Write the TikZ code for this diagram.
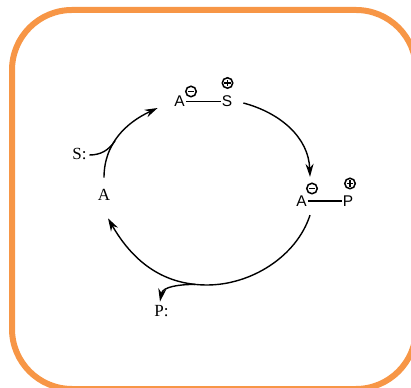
\documentclass[tikz,border=0pt]{standalone}
\usepackage{fontspec}
\setmainfont{Liberation Serif}
\setsansfont{Liberation Sans}
\usepackage{tikz}
\usetikzlibrary{arrows.meta,positioning,calc}
\definecolor{frameOrange}{RGB}{247, 150, 70}
\definecolor{inkBlack}{RGB}{0, 0, 0}

\begin{document}
\begin{tikzpicture}[x=1pt, y=1pt,
    ion/.style={inner sep=1pt, font=\sffamily\fontsize{15.5pt}{17pt}\selectfont},
    spec/.style={inner sep=1pt, font=\fontsize{17pt}{19pt}\selectfont},
    chg/.style={circle, draw, line width=1.5pt, minimum size=10.5pt, inner sep=0pt},
    negChg/.style={chg, path picture={\draw[line width=1.6pt]
        ([xshift=-3.2pt]path picture bounding box.center) -- ([xshift=3.2pt]path picture bounding box.center);}},
    posChg/.style={chg, path picture={\draw[line width=1.6pt]
        ([xshift=-3.2pt]path picture bounding box.center) -- ([xshift=3.2pt]path picture bounding box.center)
        ([yshift=-3.2pt]path picture bounding box.center) -- ([yshift=3.2pt]path picture bounding box.center);}},
    bond/.style={line width=1.4pt},
    cyc/.style={line width=1.4pt, -{Stealth[length=13pt, width=8pt]}}]
    \useasboundingbox (0,0) rectangle (411,387);
    \clip (0,0) rectangle (411,387);
    % frame
    \draw[frameOrange, line width=6pt, rounded corners=60pt] (12,-2) rectangle (416,377);

    % species around the cycle
    \node[ion] (asA) at (179.5,285.5) {A};
    \node[ion] (asS) at (227,285.5) {S};
    \node[negChg] (asNeg) at (191,295.5) {};
    \node[posChg] (asPos) at (227.5,304) {};
    \draw[bond] (asA.east) -- (asS.west);

    \node[ion] (apA) at (301.5,186) {A};
    \node[ion] (apP) at (348,186) {P};
    \node[negChg] (apNeg) at (312,198.5) {};
    \node[posChg] (apPos) at (350,203.5) {};
    \draw[bond] (apA.east) -- (apP.west);

    \node[spec] (freeA) at (104,192) {A};
    \node[spec] (sIn) at (79.5,233.5) {S:};
    \node[spec] (pOut) at (161.5,76) {P:};

    \coordinate (sJoin) at (115,246);
    \coordinate (bot) at (207,102);
    \coordinate (pJoin) at (195,102.6);

    % cycle arrows
    \draw[cyc] ([yshift=10.5pt]freeA.north) to[out=90, in=205] ([xshift=-15.5pt, yshift=-6.5pt]asA.west);
    \draw[cyc] ([xshift=10pt, yshift=-1.5pt]asS.east) to[out=-15, in=92] ([xshift=8.5pt, yshift=17.6pt]apA.north);
    \draw[cyc] ([xshift=8.5pt, yshift=-7.6pt]apA.south) to[out=-108, in=0, looseness=0.9] (bot)
        to[out=180, in=-60] ([xshift=4pt, yshift=-16.5pt]freeA.south);

    % substrate in, product out
    \draw[line width=1.4pt] ([xshift=1.5pt, yshift=-1.5pt]sIn.east) to[out=0, in=235] (sJoin);
    \draw[cyc] (pJoin) to[out=180, in=80] ([xshift=-1.5pt, yshift=2.5pt]pOut.north);
\end{tikzpicture}
\end{document}
